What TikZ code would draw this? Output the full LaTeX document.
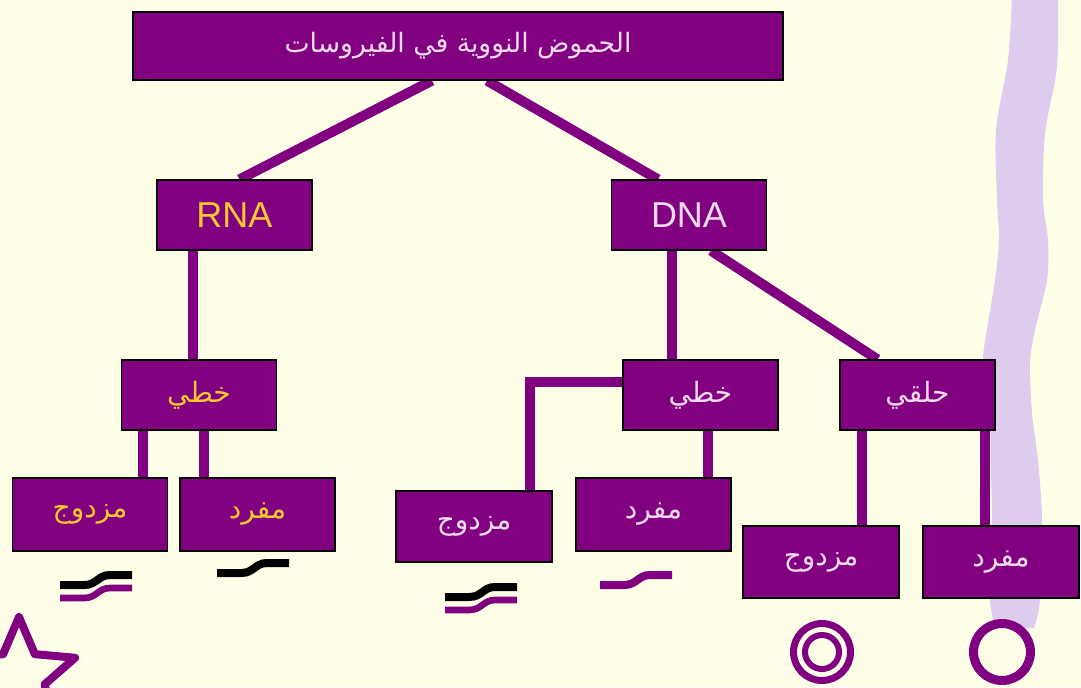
\documentclass[tikz,border=0pt]{standalone}
\usepackage{fontspec}
\usetikzlibrary{calc}
\setmainfont{Liberation Sans}
\newfontfamily\arabicfont[Script=Arabic]{DejaVu Sans}
\TeXXeTstate=1
\definecolor{bgc}{RGB}{255,255,232}
\definecolor{vio}{RGB}{128,0,128}
\definecolor{lav}{RGB}{222,204,238}
\definecolor{gold}{RGB}{248,200,48}
\definecolor{pinkw}{RGB}{244,218,238}
\pgfdeclarelayer{back}\pgfdeclarelayer{mid}\pgfsetlayers{back,mid,main}
\begin{document}
\begin{tikzpicture}[x=0.75pt,y=-0.75pt,
  box/.style={draw=black, line width=0.9pt, fill=vio, inner sep=0pt,
    minimum width=155*0.75pt, minimum height=70*0.75pt},
  gt/.style={text=gold}, wt/.style={text=pinkw},
  ar/.style={font=\arabicfont\fontsize{21}{24}\selectfont},
  lat/.style={font=\fontsize{27}{30}\selectfont},
  conn/.style={draw=vio, line width=7.5pt},
  pics/squig/.style={code={\draw[line width=6pt,#1] (0,0) -- (24,0) .. controls (37,0) and (38,-10) .. (50,-10) -- (72,-10);}},
  ring/.style={draw=vio, fill=bgc}
]
\clip (0,0) rectangle (1081,687);
\begin{pgfonlayer}{back}
\fill[bgc] (0,0) rectangle (1081,687);
\fill[lav] plot[smooth] coordinates {(1012,-5) (1008,60) (996,130) (997,200) (999,240) (995,280) (986,335) (983,365) (990,420) (991,470) (992,520) (990,600) (996,628)}
  -- plot[smooth] coordinates {(1034,628) (1040,600) (1042,520) (1038,460) (1032,413) (1030,363) (1035,330) (1047,280) (1048,240) (1043,200) (1045,133) (1057,67) (1058,-5)} -- cycle;
\end{pgfonlayer}

% boxes
\node[box, minimum width=650*0.75pt, minimum height=68*0.75pt, wt, font=\arabicfont\fontsize{20}{24}\selectfont] (top) at (458,46) {\beginR الحموض النووية في الفيروسات\endR};
\node[box, gt, lat] (rna) at (234.5,215) {RNA};
\node[box, wt, lat] (dna) at (689,215) {DNA};
\node[box, gt, ar] (lkh) at (199,395) {\beginR خطي\endR};
\node[box, wt, ar] (mkh) at (700.5,395) {\beginR خطي\endR};
\node[box, wt, ar] (hlq) at (917.5,395) {\beginR حلقي\endR};
\node[box, gt, ar, minimum height=73*0.75pt] (lmz) at (90,514.5) {\beginR مزدوج\endR};
\node[box, gt, ar, minimum height=73*0.75pt] (lmf) at (257.5,514.5) {\beginR مفرد\endR};
\node[box, wt, ar, minimum width=156*0.75pt, minimum height=71*0.75pt] (mmz) at (474,526.5) {\beginR مزدوج\endR};
\node[box, wt, ar, minimum height=73*0.75pt] (mmf) at (653.5,514.5) {\beginR مفرد\endR};
\node[box, wt, ar, minimum width=156*0.75pt, minimum height=72*0.75pt] (rmz) at (821,562) {\beginR مزدوج\endR};
\node[box, wt, ar, minimum width=156*0.75pt, minimum height=72*0.75pt] (rmf) at (1001,562) {\beginR مفرد\endR};

% connectors
\begin{pgfonlayer}{mid}
\draw[conn] ($(top.south)+(-26,0)$) -- ($(rna.north)+(5,0)$);
\draw[conn] ($(top.south)+(29,0)$) -- ($(dna.north)+(-31,0)$);
\draw[conn] ($(rna.south)+(-42,0)$) coordinate (c1) -- (c1 |- lkh.north);
\draw[conn] ($(lkh.south)+(-56,0)$) coordinate (c2) -- (c2 |- lmz.north);
\draw[conn] ($(lkh.south)+(5,0)$) coordinate (c3) -- (c3 |- lmf.north);
\draw[conn] ($(dna.south)+(-17,0)$) coordinate (c4) -- (c4 |- mkh.north);
\draw[conn] ($(dna.south)+(22,0)$) -- ($(hlq.north)+(-40,0)$);
\draw[conn, line join=miter] ($(mkh.west)+(0,-13)$) -| ($(mmz.north)+(56,0)$);
\draw[conn] ($(mkh.south)+(7.5,0)$) coordinate (c5) -- (c5 |- mmf.north);
\draw[conn] ($(hlq.south)+(-55.5,0)$) coordinate (c6) -- (c6 |- rmz.north);
\draw[conn] ($(hlq.south)+(67.5,0)$) coordinate (c7) -- (c7 |- rmf.north);
\end{pgfonlayer}

% strand symbols
\pic at (60,585) {squig=black};
\pic at (60,598) {squig={vio,line width=5pt}};
\pic at (217,573) {squig=black};
\pic at (445,597) {squig=black};
\pic at (445,610) {squig={vio,line width=5pt}};
\pic at (600,585) {squig=vio};

% circles
\draw[ring, line width=5.25pt] (822,652) circle[radius=28.5];
\draw[draw=vio, line width=4.5pt] (822,652) circle[radius=17];
\draw[ring, line width=6.75pt] (1002,652) circle[radius=28.5];

% star
\begin{scope}[shift={(19,676)}]
\draw[ring, line width=6pt, line join=round] (-90:59) -- (-54:27) -- (-18:59) -- (18:27) -- (54:59) -- (90:27) -- (126:59) -- (162:27) -- (198:59) -- (234:27) -- cycle;
\end{scope}
\end{tikzpicture}
\end{document}
